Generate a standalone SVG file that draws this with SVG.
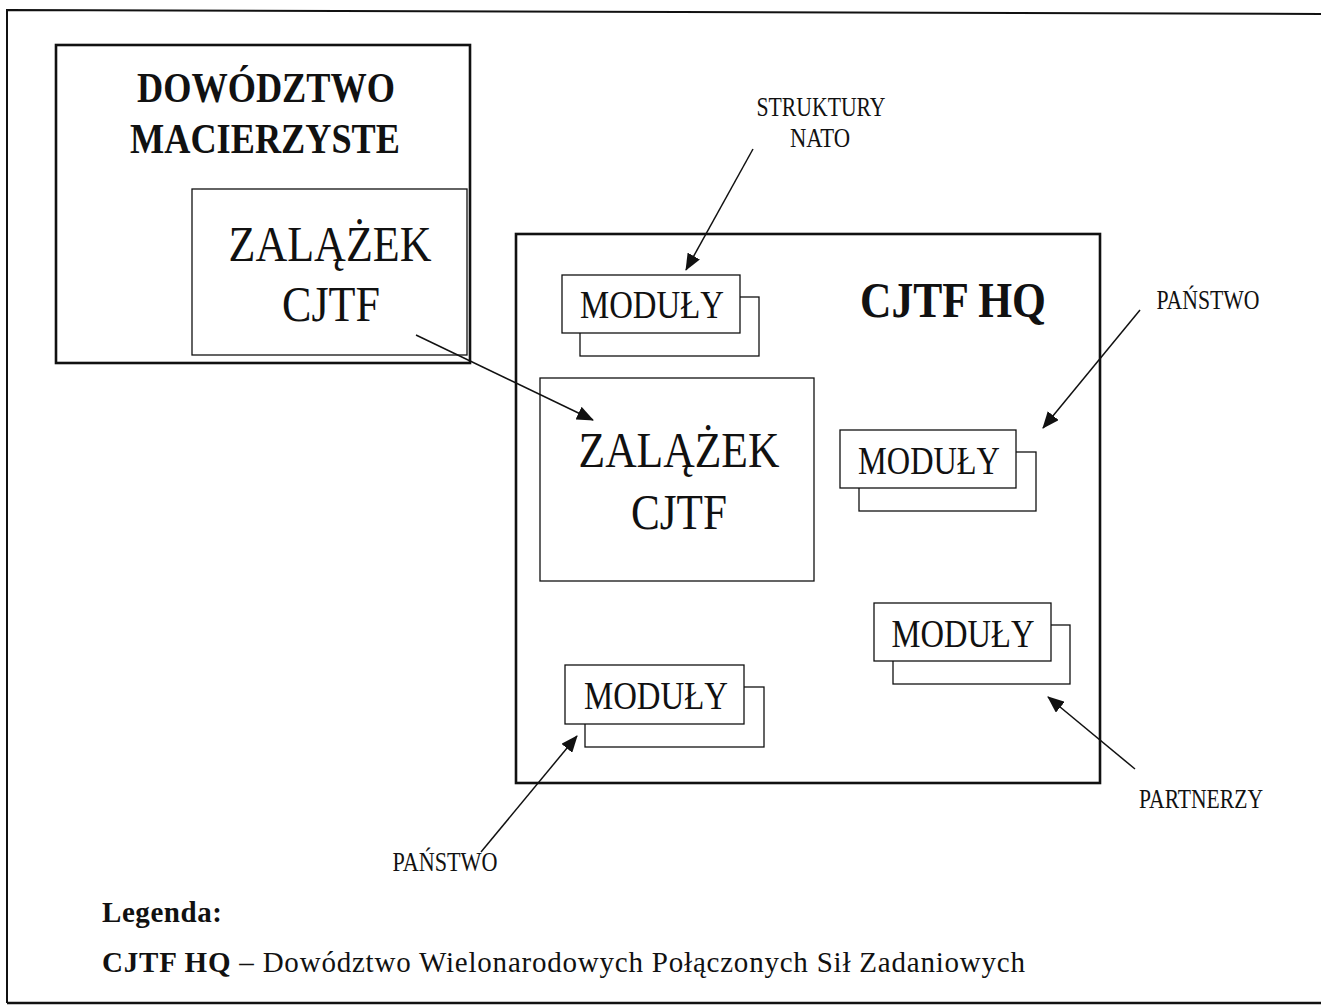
<svg xmlns="http://www.w3.org/2000/svg" width="1321" height="1006" viewBox="0 0 1321 1006">
<style>
text{font-family:"Liberation Serif","Times New Roman",serif;fill:#111}
.box{fill:#fff;stroke:#111;stroke-width:1.3}
.thick{fill:none;stroke:#111;stroke-width:2.6}
.lbl{font-size:27px}
.mod{font-size:39px}
.zal{font-size:51px}
.head{font-size:42px;font-weight:bold}
.conn{stroke:#111;stroke-width:1.5;fill:none;marker-end:url(#ah)}
</style>
<defs>
<marker id="ah" markerUnits="userSpaceOnUse" markerWidth="18" markerHeight="14" refX="16" refY="7" orient="auto">
<path d="M0,0 L17,7 L0,14 Z" fill="#111"/>
</marker>
</defs>
<rect width="1321" height="1006" fill="#fff"/>
<g id="frame">
<path d="M7,1003 L7,10 L1321,14" fill="none" stroke="#111" stroke-width="2"/>
<line x1="7" y1="1003" x2="1321" y2="1003" stroke="#111" stroke-width="2.5"/>
</g>
<g id="dowodztwo">
<rect x="56" y="45" width="414" height="318" class="thick"/>
<text x="266" y="102" text-anchor="middle" class="head" textLength="258" lengthAdjust="spacingAndGlyphs">DOWÓDZTWO</text>
<text x="265" y="153" text-anchor="middle" class="head" textLength="270" lengthAdjust="spacingAndGlyphs">MACIERZYSTE</text>
</g>
<g id="zalazek1">
<rect x="192" y="189" width="275" height="166" class="box"/>
<text x="330" y="261" text-anchor="middle" class="zal" textLength="203" lengthAdjust="spacingAndGlyphs">ZALĄŻEK</text>
<text x="331" y="321" text-anchor="middle" class="zal" textLength="98" lengthAdjust="spacingAndGlyphs">CJTF</text>
</g>
<g id="cjtfhq">
<rect x="516" y="234" width="584" height="549" class="thick"/>
<text x="953" y="317" text-anchor="middle" class="head" style="font-size:50px" textLength="186" lengthAdjust="spacingAndGlyphs">CJTF HQ</text>
</g>
<g id="zalazek2">
<rect x="540" y="378" width="274" height="203" class="box"/>
<text x="679" y="467" text-anchor="middle" class="zal" textLength="201" lengthAdjust="spacingAndGlyphs">ZALĄŻEK</text>
<text x="679" y="529" text-anchor="middle" class="zal" textLength="96" lengthAdjust="spacingAndGlyphs">CJTF</text>
</g>
<g id="moduly1">
<rect x="580" y="297" width="179" height="59" class="box"/>
<rect x="562" y="275" width="178" height="58" class="box"/>
<text x="652" y="318" text-anchor="middle" class="mod" textLength="144" lengthAdjust="spacingAndGlyphs">MODUŁY</text>
</g>
<g id="moduly2">
<rect x="859" y="452" width="177" height="59" class="box"/>
<rect x="840" y="430" width="176" height="58" class="box"/>
<text x="929" y="474" text-anchor="middle" class="mod" textLength="142" lengthAdjust="spacingAndGlyphs">MODUŁY</text>
</g>
<g id="moduly3">
<rect x="893" y="625" width="177" height="59" class="box"/>
<rect x="874" y="603" width="177" height="58" class="box"/>
<text x="963" y="647" text-anchor="middle" class="mod" textLength="143" lengthAdjust="spacingAndGlyphs">MODUŁY</text>
</g>
<g id="moduly4">
<rect x="585" y="687" width="179" height="60" class="box"/>
<rect x="565" y="665" width="179" height="59" class="box"/>
<text x="656" y="709" text-anchor="middle" class="mod" textLength="144" lengthAdjust="spacingAndGlyphs">MODUŁY</text>
</g>
<g id="labels">
<text x="821" y="116" text-anchor="middle" class="lbl" textLength="129" lengthAdjust="spacingAndGlyphs">STRUKTURY</text>
<text x="820" y="147" text-anchor="middle" class="lbl" textLength="60" lengthAdjust="spacingAndGlyphs">NATO</text>
<text x="1208" y="309" text-anchor="middle" class="lbl" textLength="103" lengthAdjust="spacingAndGlyphs">PAŃSTWO</text>
<text x="1201" y="808" text-anchor="middle" class="lbl" textLength="124" lengthAdjust="spacingAndGlyphs">PARTNERZY</text>
<text x="445" y="871" text-anchor="middle" class="lbl" textLength="105" lengthAdjust="spacingAndGlyphs">PAŃSTWO</text>
</g>
<g id="connectors">
<line x1="753" y1="149" x2="686" y2="270" class="conn"/>
<line x1="1140" y1="310" x2="1043" y2="428" class="conn"/>
<line x1="1135" y1="769" x2="1048" y2="697" class="conn"/>
<line x1="481" y1="852" x2="577" y2="736" class="conn"/>
<line x1="416" y1="335" x2="593" y2="420" class="conn"/>
</g>
<g id="legend">
<text x="102" y="922" font-size="29" font-weight="bold" textLength="120" lengthAdjust="spacing">Legenda:</text>
<text x="102" y="972" font-size="29" textLength="923" lengthAdjust="spacing"><tspan font-weight="bold">CJTF HQ</tspan> – Dowództwo Wielonarodowych Połączonych Sił Zadaniowych</text>
</g>
</svg>
